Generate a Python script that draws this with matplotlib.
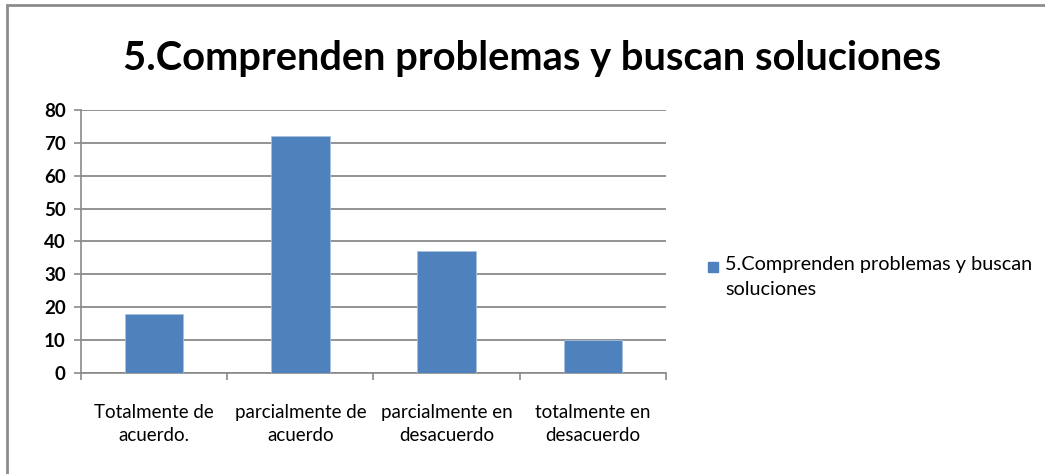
import matplotlib
matplotlib.use("Agg")
import matplotlib.pyplot as plt
from matplotlib.patches import Rectangle

plt.rcParams['font.family'] = ['Lato', 'DejaVu Sans']

titulo = "5.Comprenden problemas y buscan soluciones"
categorias = ["Totalmente de\nacuerdo.", "parcialmente de\nacuerdo",
              "parcialmente en\ndesacuerdo", "totalmente en\ndesacuerdo"]
valores = [18, 72, 37, 10]
serie = "5.Comprenden problemas y buscan\nsoluciones"
yticks = [0, 10, 20, 30, 40, 50, 60, 70, 80]

fig = plt.figure(figsize=(10.45, 4.74), dpi=100)
ax = fig.add_axes([0.0775, 0.2131, 0.5598, 0.5549])

gris = "#8A8A8A"
azul = "#4F81BD"

x = list(range(len(categorias)))
ax.bar(x, valores, width=0.4, color=azul, edgecolor="#A7C0DE", linewidth=0.6, zorder=3)

ax.set_xlim(-0.5, len(categorias) - 0.5)
ax.set_ylim(0, 80)
ax.set_yticks(yticks)
ax.set_yticklabels([str(v) for v in yticks], fontsize=13.5, fontweight="bold")
ax.yaxis.grid(True, color=gris, linewidth=1.3, zorder=0)

ax.set_xticks(x)
ax.set_xticklabels(categorias, fontsize=13.5, linespacing=1.45)
ax.tick_params(axis="x", length=0, pad=22)
ax.set_xticks([i - 0.5 for i in range(len(categorias) + 1)], minor=True)
ax.tick_params(axis="x", which="minor", length=5, color=gris, width=1.2)
ax.tick_params(axis="y", length=5, color=gris, width=1.2, pad=6)

for s in ["top", "right"]:
    ax.spines[s].set_visible(False)
for s in ["left", "bottom"]:
    ax.spines[s].set_color(gris)
    ax.spines[s].set_linewidth(1.2)

fig.text(0.509, 0.876, titulo, ha="center", va="center", fontsize=28.7, fontweight="bold")

# leyenda
fig.patches.append(Rectangle((708 / 1045, 1 - 272 / 474), 10 / 1045, 10 / 474,
                             transform=fig.transFigure, color=azul))
fig.text(725 / 1045, 1 - 256 / 474, serie, ha="left", va="top",
         fontsize=14.3, linespacing=1.55)

# borde
fig.patches.append(Rectangle((7 / 1045, -0.1), 1.2, 1 - 5 / 474 + 0.1,
                             transform=fig.transFigure, fill=False,
                             edgecolor="#8C8C8C", linewidth=2))

fig.savefig("out.png", dpi=100)
